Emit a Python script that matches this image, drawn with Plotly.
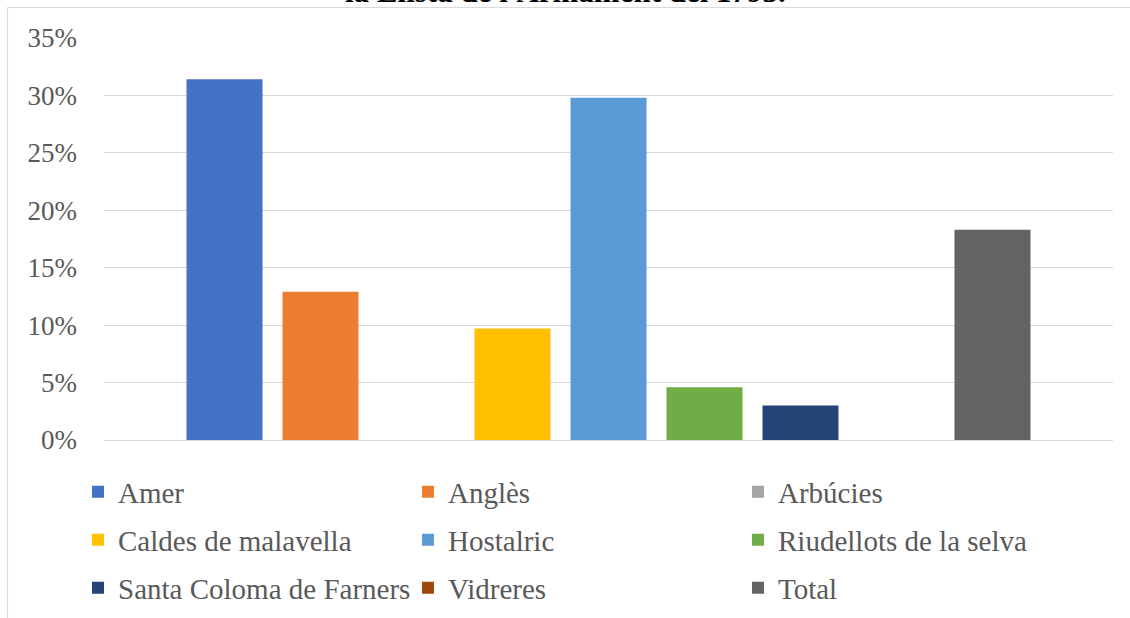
import plotly.graph_objects as go

series_names = ["Amer", "Anglès", "Arbúcies", "Caldes de malavella", "Hostalric",
                "Riudellots de la selva", "Santa Coloma de Farners", "Vidreres", "Total"]
series_values = [0.314, 0.129, 0.0, 0.097, 0.298, 0.046, 0.030, 0.0, 0.183]
series_colors = ["#4472C4", "#ED7D31", "#A5A5A5", "#FFC000", "#5B9BD5",
                 "#70AD47", "#264478", "#9E480E", "#636363"]
legend_rows = ["legend", "legend", "legend", "legend2", "legend2", "legend2",
               "legend3", "legend3", "legend3"]
category = [""]
title_text = "la Llista de l'Armament del 1793."

W, H = 1130, 618
L, R, T, B = 104, 17, 38, 178
pw, ph = W - L - R, H - T - B

def px_x(x):
    return (x - L) / pw

def px_y(y):
    return (H - B - y) / ph

fig = go.Figure()
for name, val, col, lg in zip(series_names, series_values, series_colors, legend_rows):
    fig.add_trace(go.Bar(x=category, y=[val], name=name, marker_color=col,
                         marker_line_width=0, legend=lg))

font_family = "Liberation Serif, Times New Roman, serif"
txt_col = "#595959"

def leg(y_px):
    return dict(orientation="h", x=px_x(78), xanchor="left", y=px_y(y_px), yanchor="middle",
                entrywidth=285, entrywidthmode="pixels", traceorder="normal",
                font=dict(family=font_family, size=29, color=txt_col),
                bgcolor="rgba(0,0,0,0)")

fig.update_layout(
    width=W, height=H,
    margin=dict(l=L, r=R, t=T, b=B, pad=0, autoexpand=False),
    paper_bgcolor="white", plot_bgcolor="white",
    barmode="group", bargap=0.1437, bargroupgap=0.2083,
    showlegend=True,
    legend=leg(492), legend2=leg(540), legend3=leg(588),
    xaxis=dict(showticklabels=False, showgrid=False, zeroline=False, showline=False),
    yaxis=dict(range=[0, 0.35], dtick=0.05, tickformat=".0%",
               showgrid=True, gridcolor="#d9d9d9", gridwidth=1,
               zeroline=True, zerolinecolor="#d9d9d9", zerolinewidth=1,
               showline=False, ticks="", ticklabelstandoff=26,
               tickfont=dict(family=font_family, size=27, color=txt_col)),
    annotations=[dict(text="<b>" + title_text + "</b>", xref="paper", yref="paper",
                      x=px_x(565), y=px_y(11), xanchor="center", yanchor="bottom",
                      showarrow=False,
                      font=dict(family=font_family, size=31, color="black"))],
    shapes=[
        dict(type="line", xref="paper", yref="paper", x0=px_x(7.5), x1=px_x(7.5),
             y0=px_y(7.5), y1=px_y(700), line=dict(color="#d9d9d9", width=1.2), layer="below"),
        dict(type="line", xref="paper", yref="paper", x0=px_x(7.5), x1=px_x(1200),
             y0=px_y(7.5), y1=px_y(7.5), line=dict(color="#d9d9d9", width=1.2), layer="below"),
    ],
)

fig.write_html("out.html", config={"displayModeBar": False},
               post_script="document.body.style.margin='0';document.body.style.overflow='hidden';")
